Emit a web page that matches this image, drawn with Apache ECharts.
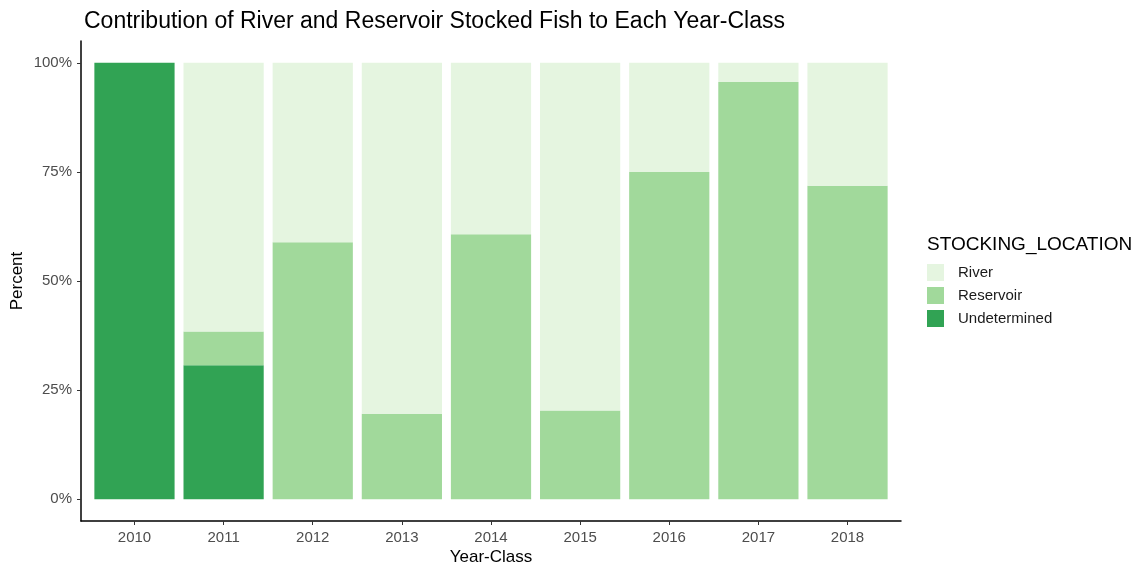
<!DOCTYPE html>
<html>
<head>
<meta charset="utf-8">
<script src="https://cdn.jsdelivr.net/npm/echarts@6/dist/echarts.min.js"></script>
<style>
  html, body { margin: 0; padding: 0; background: #fff; }
  #main { width: 1141px; height: 567px; }
</style>
</head>
<body>
<div id="main"></div>
<script>
var chartDom = document.getElementById('main');
var myChart = echarts.init(chartDom);

// year classes along the x axis
var years = ['2010', '2011', '2012', '2013', '2014', '2015', '2016', '2017', '2018'];
// percent of each year-class
var undetermined = [100, 30.7, 0, 0, 0, 0, 0, 0, 0];
var reservoir = [0, 7.7, 58.9, 19.6, 60.7, 20.3, 75, 95.6, 71.8];
var river = [0, 61.6, 41.1, 80.4, 39.3, 79.7, 25, 4.4, 28.2];
var yTicks = [0, 25, 50, 75, 100];

var xIdx = years.map((y, i) => i)

var font = 'Liberation Sans, Arial, sans-serif'

// outer frame (axis lines reach past the bars like ggplot's 0.6 expansion)
var frameLeft = 81, frameWidth = 820
var unit = frameWidth / 9.2
var barsLeft = frameLeft + 0.6 * unit - unit / 2
var barsRight = 1141 - (barsLeft + 9 * unit)

function makeSeries(name, data, color) {
    return {
        name: name, type: 'bar', stack: 'total', barWidth: '90%',
        xAxisIndex: 1, yAxisIndex: 1,
        data: data,
        itemStyle: { color: color },
        emphasis: { disabled: true }
    }
}

var option = {
    animation: false,
    title: [{
        text: 'Contribution of River and Reservoir Stocked Fish to Each Year-Class',
        left: 79, top: 5,
        textStyle: { fontFamily: font, fontSize: 23, fontWeight: 'normal', color: '#000' }
    }, {
        text: 'STOCKING_LOCATION',
        left: 922, top: 230,
        textStyle: { fontFamily: font, fontSize: 19, fontWeight: 'normal', color: '#000' }
    }],
    legend: {
        orient: 'vertical', left: 927, top: 264, padding: 0,
        itemWidth: 17, itemHeight: 17, itemGap: 6,
        data: ['River', 'Reservoir', 'Undetermined'],
        icon: 'rect',
        textStyle: { fontFamily: font, fontSize: 15, color: '#1a1a1a', padding: [0, 0, 0, 9] }
    },
    grid: [
        { left: frameLeft, width: frameWidth, top: 41, bottom: 46, outerBoundsMode: 'none', containLabel: false },
        { left: barsLeft, right: barsRight, top: 41, bottom: 46, outerBoundsMode: 'none', containLabel: false }
    ],
    xAxis: [{
        type: 'value', min: -0.6, max: 8.6, gridIndex: 0,
        name: 'Year-Class', nameLocation: 'middle', nameGap: 28, nameMoveOverlap: false,
        nameTextStyle: { fontFamily: font, fontSize: 17, color: '#000' },
        axisLine: { show: true, onZero: false, lineStyle: { color: '#000', width: 1.5 } },
        axisTick: { show: true, customValues: xIdx, length: 4, lineStyle: { color: '#333' } },
        axisLabel: {
            customValues: xIdx, margin: 9,
            formatter: v => years[v],
            fontFamily: font, fontSize: 15, color: '#4d4d4d'
        },
        splitLine: { show: false }
    }, {
        type: 'category', data: years, gridIndex: 1, show: false
    }],
    yAxis: [{
        type: 'value', min: -5, max: 105, gridIndex: 0,
        name: 'Percent', nameLocation: 'middle', nameGap: 55, nameMoveOverlap: false,
        nameTextStyle: { fontFamily: font, fontSize: 17, color: '#000' },
        axisLine: { show: true, onZero: false, lineStyle: { color: '#000', width: 1.5 } },
        axisTick: { show: true, customValues: yTicks, length: 4, lineStyle: { color: '#333' } },
        axisLabel: {
            customValues: yTicks, margin: 9,
            formatter: v => v + '%',
            fontFamily: font, fontSize: 15, color: '#4d4d4d'
        },
        splitLine: { show: false }
    }, {
        type: 'value', min: -5, max: 105, gridIndex: 1, show: false
    }],
    series: [
        makeSeries('Undetermined', undetermined, '#31a354'),
        makeSeries('Reservoir', reservoir, '#a1d99b'),
        makeSeries('River', river, '#e5f5e0')
    ]
};
option && myChart.setOption(option);
</script>
</body>
</html>
